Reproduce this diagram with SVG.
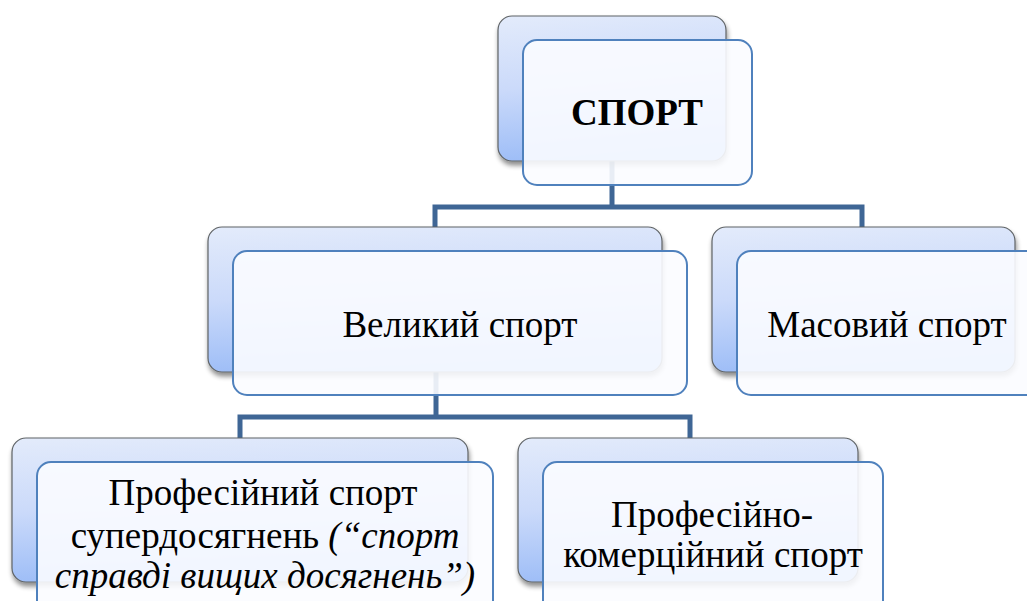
<svg xmlns="http://www.w3.org/2000/svg" width="1027" height="601" viewBox="0 0 1027 601">
<defs>
<linearGradient id="bg" x1="0" y1="0" x2="0.15" y2="1">
<stop offset="0" stop-color="#e3ebfb"/>
<stop offset="0.5" stop-color="#cbdafa"/>
<stop offset="1" stop-color="#9dbdf7"/>
</linearGradient>
<filter id="sh" x="-10%" y="-10%" width="125%" height="130%">
<feGaussianBlur in="SourceAlpha" stdDeviation="2.5"/>
<feOffset dx="1" dy="4" result="b"/>
<feComponentTransfer><feFuncA type="linear" slope="0.45"/></feComponentTransfer>
<feMerge><feMergeNode/><feMergeNode in="SourceGraphic"/></feMerge>
</filter>
</defs>
<style>
.back{fill:url(#bg);stroke:#5f6366;stroke-width:1.2;filter:url(#sh)}
.front{fill:#fbfcff;fill-opacity:0.9;stroke:#4f81bd;stroke-width:2}
.conn{fill:none;stroke:#3f6695;stroke-width:5;stroke-linejoin:miter}
.t{font-family:'Liberation Serif','DejaVu Serif',serif;font-size:37px;fill:#000;text-anchor:middle}
.b{font-weight:bold}
.i{font-style:italic}
</style>
<rect width="1027" height="601" fill="#ffffff"/>
<g id="connectors">
<path class="conn" d="M612 160 V207 M435 231 V207 H862 V229"/>
<path class="conn" d="M436 372 V417 M240 438 V417 H690 V438"/>
</g>
<g id="node-sport">
<rect class="back" x="498" y="16" width="228" height="145" rx="14"/>
<rect class="front" x="523" y="40" width="229" height="145" rx="14"/>
<text class="t b" x="637" y="125" font-family="Liberation Serif">СПОРТ</text>
</g>
<g id="node-velykyi">
<rect class="back" x="208" y="227" width="454" height="145" rx="14"/>
<rect class="front" x="233" y="251" width="454" height="144" rx="14"/>
<text class="t" x="460" y="337" font-family="Liberation Serif">Великий спорт</text>
</g>
<g id="node-masovyi">
<rect class="back" x="712" y="227" width="303" height="145" rx="14"/>
<rect class="front" x="737" y="251" width="310" height="144" rx="14"/>
<text class="t" x="887" y="337" font-family="Liberation Serif">Масовий спорт</text>
</g>
<g id="node-prof">
<rect class="back" x="12" y="438" width="456" height="144" rx="14"/>
<rect class="front" x="37" y="462" width="456" height="160" rx="14"/>
<text class="t" x="263" y="505" font-family="Liberation Serif">Професійний спорт</text>
<text class="t" x="265" y="548" font-family="Liberation Serif">супердосягнень <tspan class="i">(“спорт</tspan></text>
<text class="t i" x="265" y="588" font-family="Liberation Serif">справді вищих досягнень”)</text>
</g>
<g id="node-komerc">
<rect class="back" x="518" y="438" width="340" height="144" rx="14"/>
<rect class="front" x="543" y="462" width="340" height="160" rx="14"/>
<text class="t" x="712" y="527" font-family="Liberation Serif">Професійно-</text>
<text class="t" x="713" y="567" font-family="Liberation Serif">комерційний спорт</text>
</g>
</svg>
